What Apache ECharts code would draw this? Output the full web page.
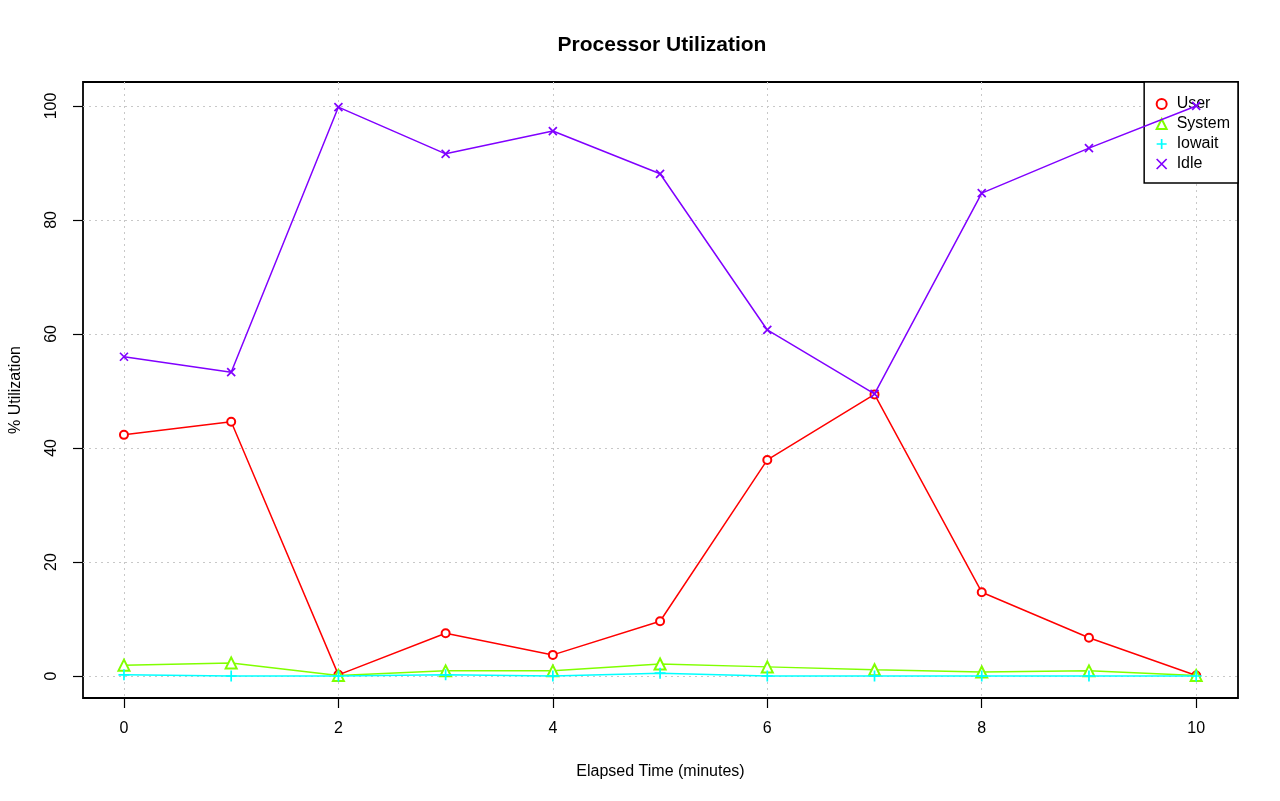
<!DOCTYPE html>
<html><head><meta charset="utf-8">
<script src="https://cdn.jsdelivr.net/npm/echarts@6/dist/echarts.min.js"></script>
<style>html,body{margin:0;padding:0;background:#fff}#c{width:1280px;height:801px}</style>
</head><body><div id="c"></div>
<script>
const minutes = [0,1,2,3,4,5,6,7,8,9,10];
const userPct   = [42.3,44.6,0.2,7.5,3.7,9.6,37.9,49.4,14.7,6.7,0.1];
const systemPct = [1.9,2.3,0.1,0.9,0.9,2.1,1.6,1.1,0.7,0.9,0.1];
const iowaitPct = [0.2,0.0,0.0,0.2,0.0,0.5,0.0,0.0,0.0,0.0,0.0];
const idlePct   = [56.0,53.3,99.8,91.6,95.6,88.1,60.7,49.5,84.7,92.6,100.0];
const xTicks = [0,2,4,6,8,10];
const yTicks = [0,20,40,60,80,100];
const seriesNames = ['User','System','Iowait','Idle'];
const colors = ['#FF0000','#80FF00','#00FFFF','#8000FF'];
const symbols = ['emptyCircle','emptyTriangle','path://M5,0 L5,10 M0,5 L10,5','path://M0,0 L10,10 M10,0 L0,10'];
const symSizes = [8,11,11,8];
const values = [userPct, systemPct, iowaitPct, idlePct];

const FONT = 'Liberation Sans, Arial, sans-serif';
const chart = echarts.init(document.getElementById('c'));
const series = seriesNames.map((n,i)=>({
  name:n, type:'line',
  data: minutes.map((m,j)=>[m, values[i][j]]),
  symbol: symbols[i], symbolSize: symSizes[i], showAllSymbol:true,
  lineStyle:{color:colors[i], width:1.5},
  itemStyle:{color: i<2 ? colors[i] : 'none', borderColor:colors[i], borderWidth:1.7},
  emphasis:{disabled:true}, animation:false, z: 2+i
}));
chart.setOption({
  animation:false,
  backgroundColor:'#fff',
  title:{text:'Processor Utilization', left:657, textAlign:'center', top:30,
    textStyle:{fontFamily:FONT, fontSize:21, fontWeight:'bold', color:'#000'}},
  legend:{
    orient:'vertical', right:42, top:82, padding:[14,8,11,10], itemGap:4,
    itemWidth:10, itemHeight:10, backgroundColor:'#fff',
    borderColor:'#000', borderWidth:1.5, borderRadius:0,
    textStyle:{fontFamily:FONT, fontSize:16, color:'#000', padding:[0,0,0,5]},
    data: seriesNames.map((n,i)=>({name:n, icon:symbols[i],
      itemStyle:{color: i<2?colors[i]:'none', borderColor:colors[i], borderWidth:1.7}}))
  },
  grid:{left:83, right:42, top:82, bottom:103, show:true, containLabel:false, outerBoundsMode:'none',
    borderColor:'#000', borderWidth:1.8, backgroundColor:'transparent'},
  xAxis:{type:'value', min:-0.382, max:10.39,
    name:'Elapsed Time (minutes)', nameLocation:'middle', nameGap:66,
    nameTextStyle:{fontFamily:FONT, fontSize:16, color:'#000'},
    axisLine:{show:false, onZero:false},
    axisTick:{show:true, length:10, lineStyle:{color:'#000', width:1.2}, customValues:xTicks},
    axisLabel:{fontFamily:FONT, fontSize:16, color:'#000', margin:23, customValues:xTicks},
    splitLine:{show:true, lineStyle:{color:'#C8C8C8', type:[2,4], width:1}}
  },
  yAxis:{type:'value', min:-3.86, max:104.2,
    name:'% Utilization', nameLocation:'middle', nameGap:59, nameRotate:90,
    nameTextStyle:{fontFamily:FONT, fontSize:16, color:'#000'},
    axisLine:{show:false, onZero:false},
    axisTick:{show:true, length:10, lineStyle:{color:'#000', width:1.2}, customValues:yTicks},
    axisLabel:{fontFamily:FONT, fontSize:16, color:'#000', margin:23, rotate:90, customValues:yTicks},
    splitLine:{show:true, lineStyle:{color:'#C8C8C8', type:[2,4], width:1}}
  },
  series: series
});
</script></body></html>
